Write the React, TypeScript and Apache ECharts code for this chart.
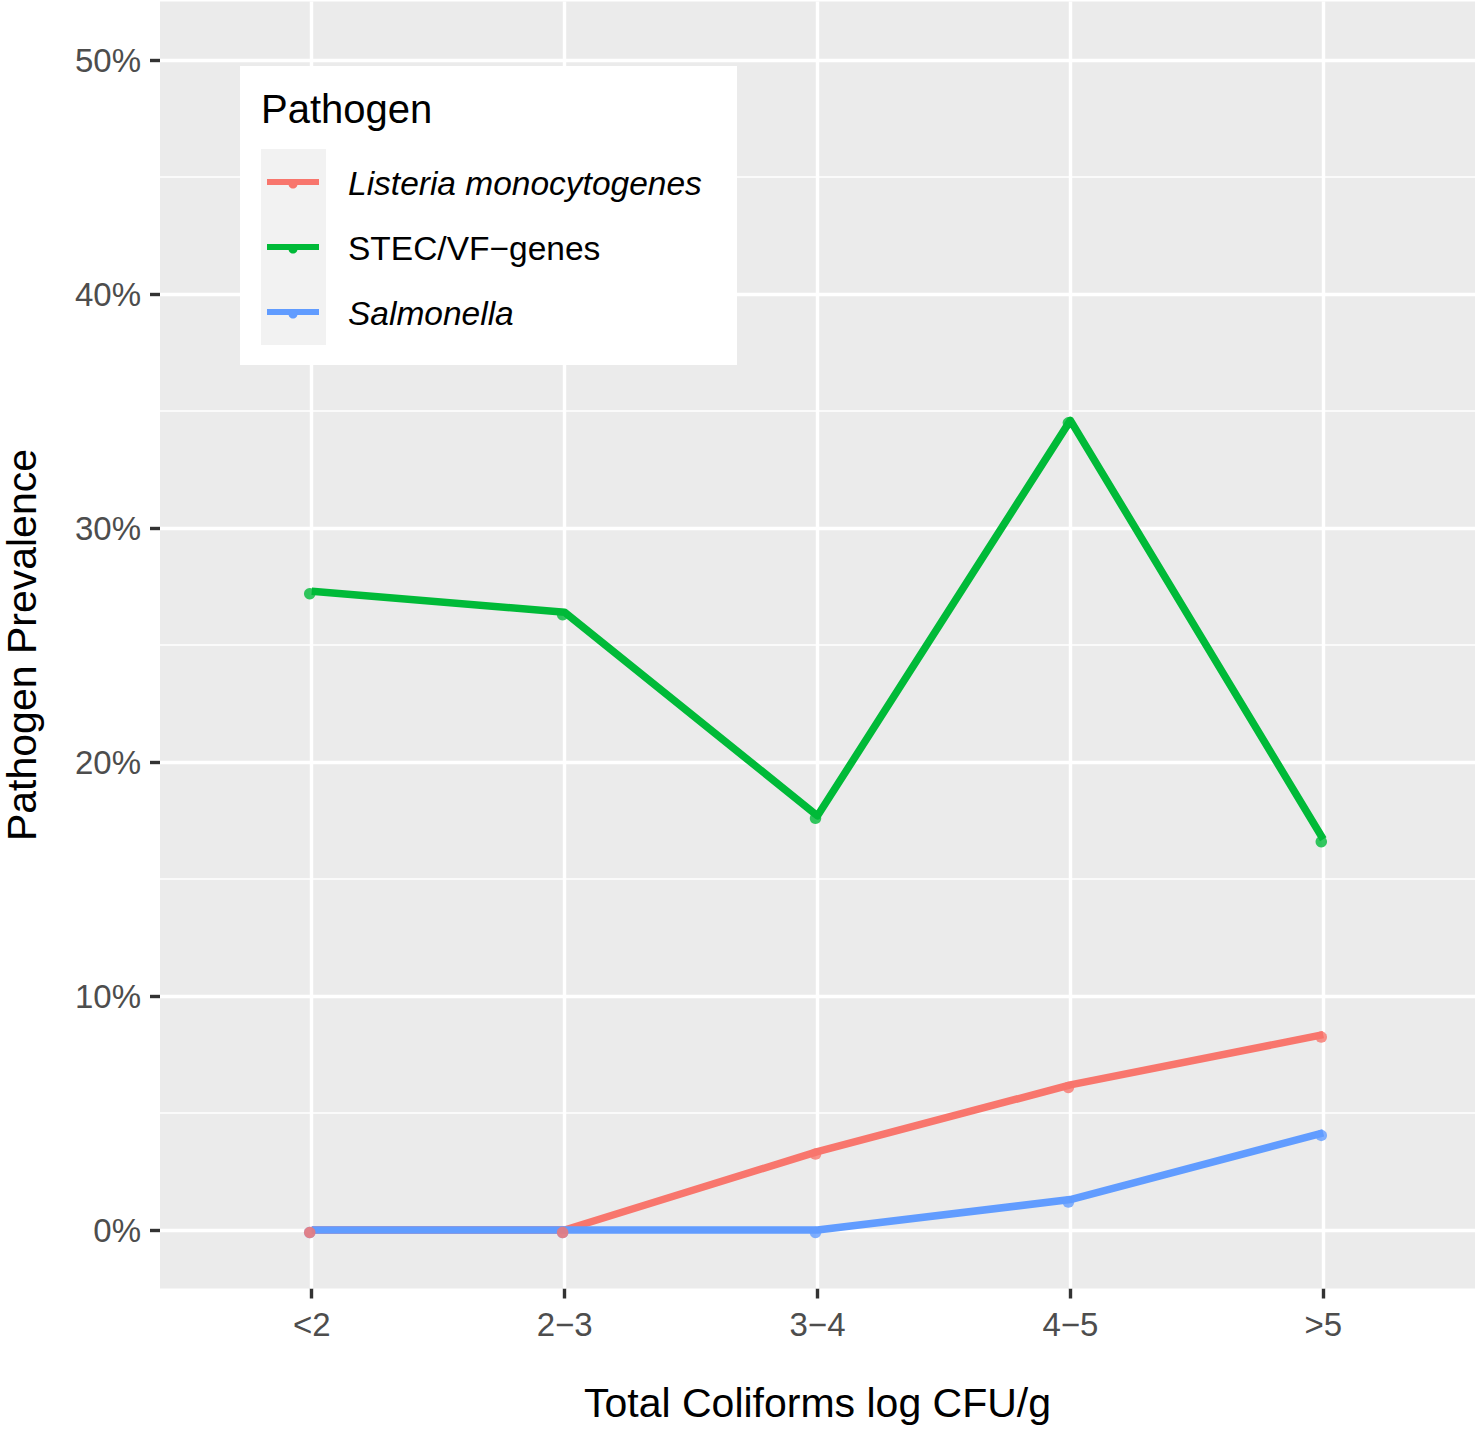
import React, { useEffect, useRef } from "react";
import * as echarts from "echarts";

const categories = ["<2", "2−3", "3−4", "4−5", ">5"];
const seriesNames = ["Listeria monocytogenes", "STEC/VF−genes", "Salmonella"];
const seriesItalic = [true, false, true];
const seriesColors = ["#F8766D", "#00BA38", "#619CFF"];
const listeria = [0, 0, 3.35, 6.2, 8.35];
const stec = [27.3, 26.4, 17.7, 34.6, 16.7];
const salmonella = [0, 0, 0, 1.3, 4.15];
const seriesValues = [listeria, stec, salmonella];
const yMajor = [0, 10, 20, 30, 40, 50];
const yMinor = [5, 15, 25, 35, 45];
const legendTitle = "Pathogen";
const xTitle = "Total Coliforms log CFU/g";
const yTitle = "Pathogen Prevalence";

const FONT = '"Liberation Sans", Arial, Helvetica, sans-serif';

function buildOption() {
  const catIdx = categories.map((_, i) => i);
  const toData = (vals: number[]) => vals.map((v, i) => [i, v]);

  const gridLines = {
    silent: true,
    symbol: ["none", "none"],
    label: { show: false },
    emphasis: { disabled: true },
    z: 1,
    lineStyle: { color: "#FFFFFF", type: "solid", width: 3.4 },
    data: [
      ...yMinor.map((v) => ({ yAxis: v, lineStyle: { color: "#FFFFFF", type: "solid", width: 1.7 } })),
      ...yMajor.map((v) => ({ yAxis: v, lineStyle: { color: "#FFFFFF", type: "solid", width: 3.4 } })),
      ...catIdx.map((v) => ({ xAxis: v, lineStyle: { color: "#FFFFFF", type: "solid", width: 3.4 } })),
    ],
  };

  const lineSeries = seriesValues.map((vals, k) => ({
    type: "line",
    name: seriesNames[k],
    data: toData(vals),
    showSymbol: false,
    symbol: "none",
    z: 3 + k * 0.01,
    lineStyle: { color: seriesColors[k], width: 7.5, cap: "butt", join: "round" },
    silent: true,
  }));

  // points drawn above all lines; red drawn last so it sits on top at 0%
  const pointOrder = [2, 1, 0];
  const pointSeries = pointOrder.map((k, j) => ({
    type: "scatter",
    name: seriesNames[k] + " points",
    data: toData(seriesValues[k]),
    symbol: "circle",
    symbolSize: 11.5,
    symbolOffset: [-2, 2.5],
    z: 5 + j * 0.01,
    itemStyle: { color: seriesColors[k] },
    silent: true,
  }));

  // legend drawn as graphic, above the panel
  const Z = 100;
  const lx = 240, ly = 66, lw = 497, lh = 299;
  const keyX = 261, keyY = 149, keyW = 65, rowH = 65;
  const legendChildren: any[] = [
    { type: "rect", z: Z, shape: { x: lx, y: ly, width: lw, height: lh }, style: { fill: "#FFFFFF" } },
    { type: "rect", z: Z + 1, shape: { x: keyX, y: keyY, width: keyW, height: rowH * 3 + 1 }, style: { fill: "#F2F2F2" } },
    {
      type: "text",
      z: Z + 2,
      style: {
        text: legendTitle, x: 261, y: 109, fill: "#000000",
        fontSize: 40, fontFamily: FONT,
        textAlign: "left", align: "left", textVerticalAlign: "middle", verticalAlign: "middle",
      },
    },
  ];
  seriesNames.forEach((name, k) => {
    const cy = keyY + rowH * k + 33;
    legendChildren.push({
      type: "line",
      z: Z + 2,
      shape: { x1: keyX + 6, y1: cy, x2: keyX + keyW - 7, y2: cy },
      style: { stroke: seriesColors[k], lineWidth: 6 },
    });
    legendChildren.push({
      type: "circle",
      z: Z + 3,
      shape: { cx: keyX + 32, cy: cy + 2, r: 4.5 },
      style: { fill: seriesColors[k] },
    });
    legendChildren.push({
      type: "text",
      z: Z + 2,
      style: {
        text: name, x: 348, y: cy + 1, fill: "#000000",
        fontSize: 33.5, fontFamily: FONT, fontStyle: seriesItalic[k] ? "italic" : "normal",
        textAlign: "left", align: "left", textVerticalAlign: "middle", verticalAlign: "middle",
      },
    });
  });

  return {
    animation: false,
    backgroundColor: "#FFFFFF",
    textStyle: { fontFamily: FONT },
    grid: {
      left: 160, top: 1.5, width: 1315, height: 1287,
      show: true, backgroundColor: "#EBEBEB", borderWidth: 0,
      containLabel: false, outerBoundsMode: "none",
    },
    xAxis: {
      type: "value",
      min: -0.6,
      max: 4.6,
      name: xTitle,
      nameLocation: "middle",
      nameGap: 94,
      nameTextStyle: { fontSize: 41, color: "#000000", fontFamily: FONT },
      axisLine: { show: false, onZero: false },
      splitLine: { show: false },
      axisTick: { show: true, customValues: catIdx, length: 10, lineStyle: { color: "#333333", width: 3.4 } },
      axisLabel: {
        show: true, customValues: catIdx, margin: 19,
        fontSize: 33, color: "#4D4D4D", fontFamily: FONT,
        formatter: (v: number) => categories[Math.round(v)] ?? "",
      },
    },
    yAxis: {
      type: "value",
      min: -2.5,
      max: 52.5,
      name: yTitle,
      nameLocation: "middle",
      nameGap: 118,
      nameTextStyle: { fontSize: 41, color: "#000000", fontFamily: FONT },
      axisLine: { show: false, onZero: false },
      splitLine: { show: false },
      axisTick: { show: true, customValues: yMajor, length: 10, lineStyle: { color: "#333333", width: 3.4 } },
      axisLabel: {
        show: true, customValues: yMajor, margin: 19,
        fontSize: 33, color: "#4D4D4D", fontFamily: FONT,
        formatter: (v: number) => `${v}%`,
      },
    },
    series: [
      { type: "line", name: "grid", data: [], silent: true, z: 1, markLine: gridLines },
      ...lineSeries,
      ...pointSeries,
    ],
    graphic: [{ type: "group", z: Z, children: legendChildren }],
  };
}

export default function App() {
  const ref = useRef<HTMLDivElement>(null);
  useEffect(() => {
    document.body.style.margin = "0";
    const chart = echarts.init(ref.current as HTMLDivElement, null, { renderer: "svg" });
    chart.setOption(buildOption() as any);
    return () => chart.dispose();
  }, []);
  return <div ref={ref} style={{ width: 1479, height: 1429 }} />;
}
